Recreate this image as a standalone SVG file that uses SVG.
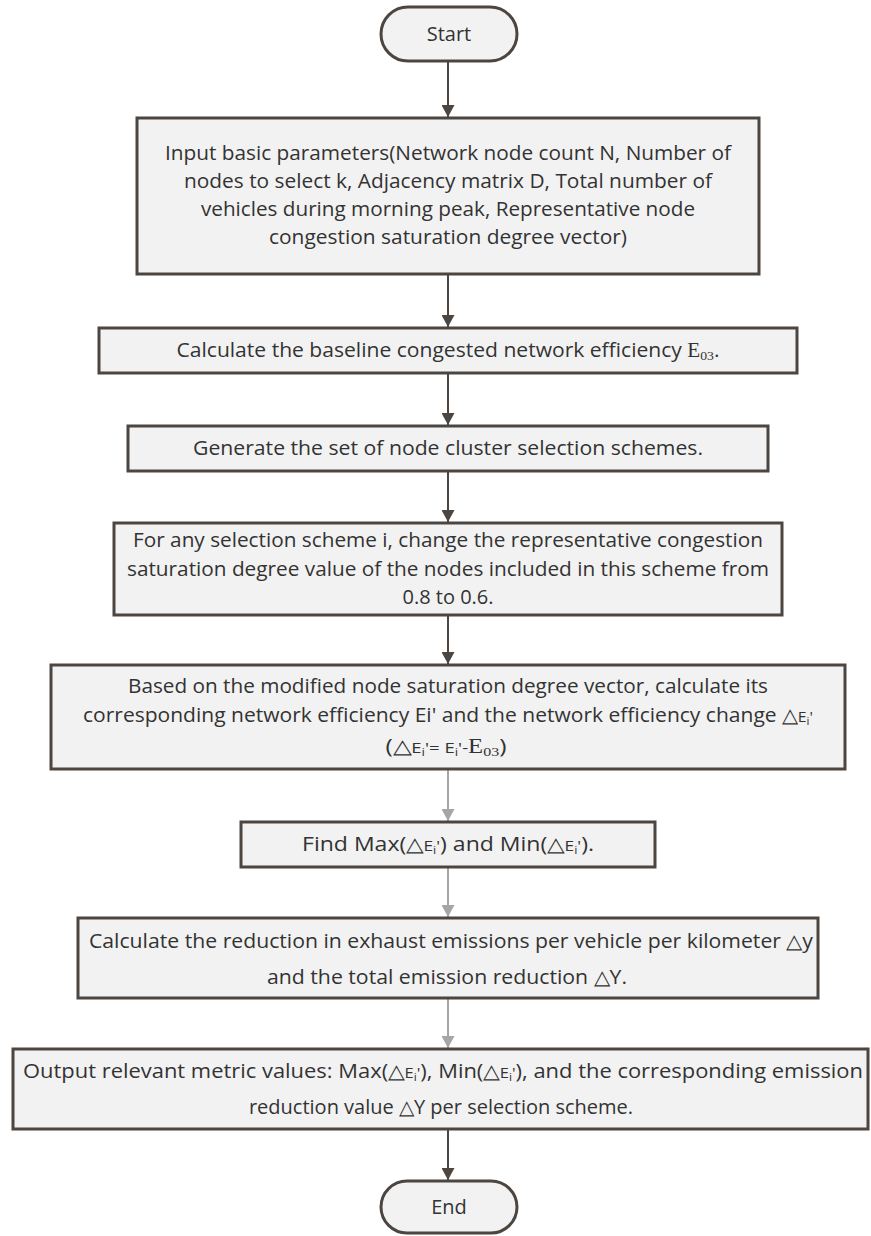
<svg xmlns="http://www.w3.org/2000/svg" width="871" height="1236" viewBox="0 0 871 1236">
<defs>
<style>
.box{fill:#f2f2f2;stroke:#4d453f;stroke-width:3}
.t{font-family:"Open Sans","Liberation Sans",sans-serif;font-size:20px;fill:#333333;text-anchor:middle}
.ser{font-family:"Liberation Serif",serif}
.c1{stroke:#4d453f;stroke-width:2;fill:none}
.c2{stroke:#a6a6a6;stroke-width:2;fill:none}
</style>
<marker id="ad" markerUnits="userSpaceOnUse" markerWidth="13" markerHeight="13" refX="12" refY="6.5" orient="auto"><path d="M0,0 L12,6.5 L0,13 z" fill="#4d453f"/></marker>
<marker id="ag" markerUnits="userSpaceOnUse" markerWidth="13" markerHeight="13" refX="12" refY="6.5" orient="auto"><path d="M0,0 L12,6.5 L0,13 z" fill="#a6a6a6"/></marker>
</defs>
<g id="connectors">
<line class="c1" x1="448" y1="61" x2="448" y2="117" marker-end="url(#ad)"/>
<line class="c1" x1="448" y1="274" x2="448" y2="327" marker-end="url(#ad)"/>
<line class="c1" x1="448" y1="373" x2="448" y2="425" marker-end="url(#ad)"/>
<line class="c1" x1="448" y1="471" x2="448" y2="522" marker-end="url(#ad)"/>
<line class="c1" x1="448" y1="615" x2="448" y2="664" marker-end="url(#ad)"/>
<line class="c2" x1="448" y1="769" x2="448" y2="821" marker-end="url(#ag)"/>
<line class="c2" x1="448" y1="867" x2="448" y2="917" marker-end="url(#ag)"/>
<line class="c2" x1="448" y1="998" x2="448" y2="1048" marker-end="url(#ag)"/>
<line class="c1" x1="448" y1="1129" x2="448" y2="1180" marker-end="url(#ad)"/>
</g>
<g id="start">
<rect class="box" x="381" y="7" width="136" height="54" rx="27"/>
<text class="t" x="449" y="41">Start</text>
</g>
<g id="input">
<rect class="box" x="137" y="118" width="622" height="156"/>
<text class="t" x="448" y="160" textLength="566" lengthAdjust="spacingAndGlyphs">Input basic parameters(Network node count N, Number of</text>
<text class="t" x="448" y="188" textLength="528" lengthAdjust="spacingAndGlyphs">nodes to select k, Adjacency matrix D, Total number of</text>
<text class="t" x="448" y="216" textLength="494" lengthAdjust="spacingAndGlyphs">vehicles during morning peak, Representative node</text>
<text class="t" x="448" y="244" textLength="358" lengthAdjust="spacingAndGlyphs">congestion saturation degree vector)</text>
</g>
<g id="baseline">
<rect class="box" x="99" y="328" width="698" height="45"/>
<text class="t" x="448" y="357" textLength="543" lengthAdjust="spacingAndGlyphs">Calculate the baseline congested network efficiency <tspan class="ser">E</tspan><tspan class="ser" font-size="13" dy="3">03</tspan><tspan dy="-3">.</tspan></text>
</g>
<g id="generate">
<rect class="box" x="128" y="426" width="640" height="45"/>
<text class="t" x="448" y="455" textLength="510" lengthAdjust="spacingAndGlyphs">Generate the set of node cluster selection schemes.</text>
</g>
<g id="change">
<rect class="box" x="114" y="523" width="668" height="92"/>
<text class="t" x="448" y="547" textLength="630" lengthAdjust="spacingAndGlyphs">For any selection scheme i, change the representative congestion</text>
<text class="t" x="448" y="576" textLength="642" lengthAdjust="spacingAndGlyphs">saturation degree value of the nodes included in this scheme from</text>
<text class="t" x="448" y="604">0.8 to 0.6.</text>
</g>
<g id="efficiency">
<rect class="box" x="51" y="665" width="794" height="104"/>
<text class="t" x="448" y="693" textLength="640" lengthAdjust="spacingAndGlyphs">Based on the modified node saturation degree vector, calculate its</text>
<text class="t" x="448" y="722" textLength="730" lengthAdjust="spacingAndGlyphs">corresponding network efficiency Ei' and the network efficiency change △<tspan font-size="15">E</tspan><tspan font-size="11" dy="3">i</tspan><tspan font-size="15" dy="-3">'</tspan></text>
<text class="t" x="446" y="753" textLength="121" lengthAdjust="spacingAndGlyphs">(△<tspan font-size="15">E</tspan><tspan font-size="11" dy="3">i</tspan><tspan font-size="15" dy="-3">'= E</tspan><tspan font-size="11" dy="3">i</tspan><tspan font-size="15" dy="-3">'-</tspan><tspan class="ser">E</tspan><tspan class="ser" font-size="13" dy="3">03</tspan><tspan dy="-3">)</tspan></text>
</g>
<g id="findmax">
<rect class="box" x="241" y="822" width="414" height="45"/>
<text class="t" x="448" y="851" textLength="292" lengthAdjust="spacingAndGlyphs">Find Max(△<tspan font-size="15">E</tspan><tspan font-size="11" dy="3">i</tspan><tspan font-size="15" dy="-3">'</tspan>) and Min(△<tspan font-size="15">E</tspan><tspan font-size="11" dy="3">i</tspan><tspan font-size="15" dy="-3">'</tspan>).</text>
</g>
<g id="reduction">
<rect class="box" x="78" y="918" width="740" height="80"/>
<text class="t" x="451" y="948" textLength="724" lengthAdjust="spacingAndGlyphs">Calculate the reduction in exhaust emissions per vehicle per kilometer △y</text>
<text class="t" x="447" y="984" textLength="360" lengthAdjust="spacingAndGlyphs">and the total emission reduction △Y.</text>
</g>
<g id="output">
<rect class="box" x="13" y="1049" width="855" height="80"/>
<text class="t" x="443" y="1078" textLength="840" lengthAdjust="spacingAndGlyphs">Output relevant metric values: Max(△<tspan font-size="15">E</tspan><tspan font-size="11" dy="3">i</tspan><tspan font-size="15" dy="-3">'</tspan>), Min(△<tspan font-size="15">E</tspan><tspan font-size="11" dy="3">i</tspan><tspan font-size="15" dy="-3">'</tspan>), and the corresponding emission</text>
<text class="t" x="441" y="1114">reduction value △Y per selection scheme.</text>
</g>
<g id="end">
<rect class="box" x="381" y="1181" width="136" height="52" rx="26"/>
<text class="t" x="449" y="1214">End</text>
</g>
</svg>
